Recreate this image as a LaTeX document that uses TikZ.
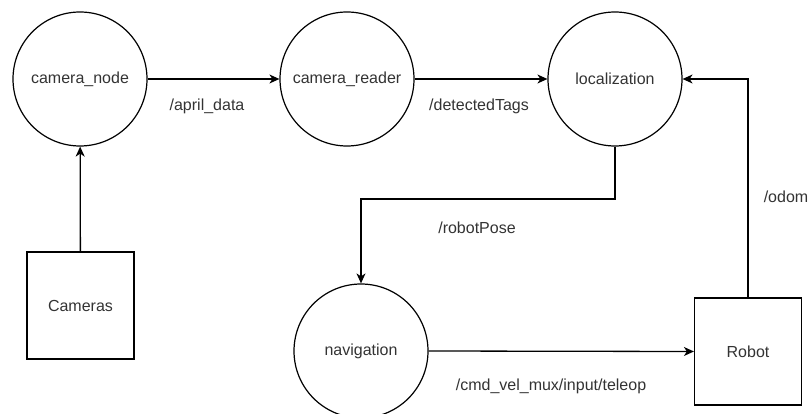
\documentclass[tikz,border=0pt]{standalone}
\usepackage{fontspec}
\setmainfont{Liberation Sans}
\usetikzlibrary{arrows.meta}
\begin{document}
\begin{tikzpicture}[x=1pt,y=-1pt,
  font=\fontsize{16pt}{19pt}\selectfont,
  rosnode/.style={circle,draw,line width=1.2pt,minimum size=134pt,inner sep=0pt,text=black!80},
  hwbox/.style={rectangle,draw,line width=1.2pt,minimum width=107pt,minimum height=107pt,inner sep=0pt,text=black!80},
  conn/.style={draw,line width=1.3pt,-{Stealth[length=10pt,width=9pt,inset=3pt]}},
  topic/.style={text=black!80,inner sep=0pt}]
\useasboundingbox (0,0) rectangle (808,414);
\node[rosnode] (camnode) at (80,79) {camera\_node};
\node[rosnode] (camreader) at (347,79) {camera\_reader};
\node[rosnode] (loc) at (615,79) {localization};
\node[rosnode] (nav) at (361,351) {navigation};
\node[hwbox] (cams) at (80.5,305.5) {Cameras};
\node[hwbox] (robot) at (748,351.5) {Robot};
\coordinate (c1) at (615,199);
\coordinate (c2) at (361,199);
\coordinate (c3) at (748,79);
\draw[conn] (camnode) -- (camreader);
\draw[conn] (camreader) -- (loc);
\draw[conn] (cams) -- (camnode);
\draw[conn] (loc.south) -- (c1) -- (c2) -- (nav.north);
\draw[conn] (nav.east) -- (robot.west);
\draw[conn] (robot.north) -- (c3) -- (loc.east);
\node[topic] (t1) at (207,106) {/april\_data};
\node[topic] (t2) at (479,106) {/detectedTags};
\node[topic] (t3) at (477,228) {/robotPose};
\node[topic] (t4) at (786,197) {/odom};
\node[topic] (t5) at (551,386) {/cmd\_vel\_mux/input/teleop};
\end{tikzpicture}
\end{document}
